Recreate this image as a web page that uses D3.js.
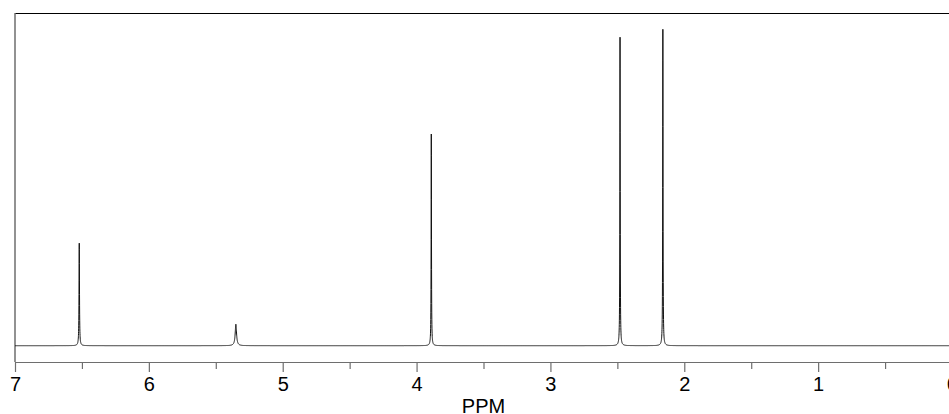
<!DOCTYPE html>
<html>
<head>
<meta charset="utf-8">
<script src="https://cdn.jsdelivr.net/npm/d3@7/dist/d3.min.js"></script>
<style>
  html, body { margin: 0; padding: 0; background: #ffffff; }
  svg { display: block; }
  text { font-family: "Liberation Sans", Arial, Helvetica, sans-serif; }
</style>
</head>
<body>
<svg id="chart" width="949" height="414"></svg>
<script>
// ---- data ----
const peakShifts  = [6.52, 5.35, 3.89, 2.48, 2.16];   // ppm
const peakHeights = [32.4, 6.8, 66.9, 97.5, 100];     // relative intensity
const peakWidths  = [0.002, 0.006, 0.0015, 0.0015, 0.0015]; // half-width (ppm)
const majorTicks  = [7, 6, 5, 4, 3, 2, 1, 0];
const tickLabels  = ["7", "6", "5", "4", "3", "2", "1", "0"];
const minorTicks  = [6.5, 5.5, 4.5, 3.5, 2.5, 1.5, 0.5];
const xTitle = "PPM";

// ---- layout ----
const W = 949, H = 414;
const svg = d3.select("#chart");
const x = d3.scaleLinear().domain([7, 0]).range([15, 952]);
const y = d3.scaleLinear().domain([0, 100]).range([345.7, 29.3]);
const axisY = 362;

// spectrum samples (Lorentzian line shapes at the read peak positions)
const step = 0.0005;
const xs = d3.range(0, 7 + step / 2, step).concat(peakShifts).sort((a, b) => b - a);
const spectrum = xs.map(p => {
  let v = 0;
  for (let i = 0; i < peakShifts.length; i++) {
    const d = p - peakShifts[i], g = peakWidths[i];
    v += peakHeights[i] * g * g / (d * d + g * g);
  }
  return [p, v];
});

// frame: top line and left line
svg.append("line")
  .attr("x1", x(7)).attr("x2", W).attr("y1", 13.5).attr("y2", 13.5)
  .attr("stroke", "#000").attr("stroke-width", 1.2);
svg.append("line")
  .attr("x1", x(7)).attr("x2", x(7)).attr("y1", 13).attr("y2", axisY)
  .attr("stroke", "#6e6e6e").attr("stroke-width", 1.5);

// spectrum line
svg.append("path")
  .datum(spectrum)
  .attr("fill", "none")
  .attr("stroke", "#111")
  .attr("stroke-width", 1)
  .attr("d", d3.line().x(d => x(d[0])).y(d => y(d[1])));

// axis: minor ticks
const gMinor = svg.append("g").attr("transform", `translate(0,${axisY})`)
  .call(d3.axisBottom(x).tickValues(minorTicks).tickSize(7).tickSizeOuter(0).tickFormat(""));
// axis: major ticks with labels
const gMajor = svg.append("g").attr("transform", `translate(0,${axisY})`)
  .call(d3.axisBottom(x).tickValues(majorTicks).tickSize(10).tickSizeOuter(0).tickPadding(5)
    .tickFormat((d, i) => tickLabels[i]));

[gMinor, gMajor].forEach(g => {
  g.select(".domain").attr("stroke", "#6e6e6e").attr("stroke-width", 1.2);
  g.selectAll(".tick line").attr("stroke", "#6e6e6e").attr("stroke-width", 1.2);
});
gMajor.selectAll(".tick text")
  .attr("fill", "#000")
  .style("font-size", "20px")
  .style("font-family", "'Liberation Sans', Arial, sans-serif");

// axis title
svg.append("text")
  .attr("x", 483.5).attr("y", 413)
  .attr("text-anchor", "middle")
  .attr("fill", "#000")
  .style("font-size", "20px")
  .text(xTitle);
</script>
</body>
</html>
